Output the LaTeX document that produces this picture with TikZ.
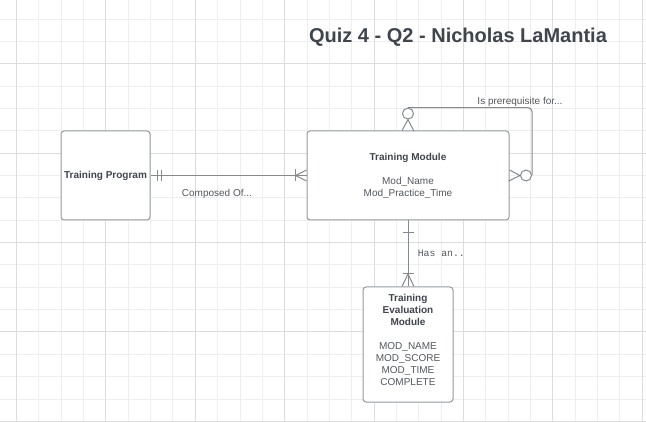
\documentclass[tikz,border=0pt]{standalone}
\usepackage{fontspec}
\setmainfont{Liberation Sans}
\setmonofont{Liberation Mono}
\definecolor{inkdark}{HTML}{40454D}
\definecolor{inkgray}{HTML}{53585F}
\definecolor{boxgray}{HTML}{959AA1}
\definecolor{relgray}{HTML}{858A91}
\definecolor{gridminor}{HTML}{EEEEEE}
\definecolor{gridmajor}{HTML}{DDDDDD}
\tikzset{
  entity/.style={draw=boxgray, line width=1pt, rounded corners=3pt, fill=white, inner sep=0pt},
  rel/.style={draw=relgray, line width=1pt},
  zerocirc/.style={circle, draw=relgray, line width=1pt, fill=white, minimum size=11pt, inner sep=0pt},
  reltext/.style={text=inkgray, font=\fontsize{10}{12}\selectfont},
}
\begin{document}
\begin{tikzpicture}[x=1pt,y=-1pt]
      \useasboundingbox (0,0) rectangle (646,422);
      \fill[white] (0,0) rectangle (646,422);
      \foreach \k in {0,...,28} \draw[gridminor, line width=1pt] ({16.5+22.35*\k},0) -- ++(0,422);
      \foreach \k in {0,...,18} \draw[gridminor, line width=1pt] (0,{19.1+22.35*\k}) -- ++(646,0);
      \foreach \k in {0,4,...,28} \draw[gridmajor, line width=1pt] ({16.5+22.35*\k},0) -- ++(0,422);
      \foreach \k in {2,6,...,18} \draw[gridmajor, line width=1pt] (0,{19.1+22.35*\k}) -- ++(646,0);
      \node[anchor=base, text=inkdark, font=\fontsize{20}{24}\selectfont\bfseries] (title) at (458,42.3) {Quiz 4 - Q2 - Nicholas LaMantia};
      \node[entity, minimum width=89pt, minimum height=89pt] (prog) at (105.5,175.5) {};
      \node[text=inkdark, font=\fontsize{10}{12}\selectfont\bfseries] at (prog) {Training Program};
      \node[entity, minimum width=202pt, minimum height=89pt] (tm) at (408,175.5) {};
      \node[reltext, align=center] at (tm) {\textcolor{inkdark}{\bfseries Training Module}\\[12pt]Mod\_Name\\Mod\_Practice\_Time};
      \node[entity, minimum width=90pt, minimum height=115pt] (tem) at (408,344.5) {};
      \node[reltext, align=center, yshift=4.5pt] at (tem) {\textcolor{inkdark}{\bfseries Training}\\\textcolor{inkdark}{\bfseries Evaluation}\\\textcolor{inkdark}{\bfseries Module}\\[12pt]MOD\_NAME\\MOD\_SCORE\\MOD\_TIME\\COMPLETE};
      \draw[rel] (prog.east) -- node[reltext, below=10pt, pos=0.426] {Composed Of...} (tm.west);
      \draw[rel] (prog.east) ++(6.5,-5.5) -- ++(0,11);
      \draw[rel] (prog.east) ++(11,-5.5) -- ++(0,11);
      \draw[rel] (tm.west) ++(0,-5.5) -- ++(-11,5.5) -- ++(11,5.5);
      \draw[rel] (tm.west) ++(-11,-6) -- ++(0,12);
      \node[zerocirc] (topcirc) at (408,113.6) {};
      \node[zerocirc] (sidecirc) at (526,175.5) {};
      \draw[rel] (tm.north) ++(-6,0) -- (topcirc.south) -- ++(6,11.7);
      \draw[rel] (tm.east) ++(0,-5.5) -- (sidecirc.west) -- ++(-11.4,5.5);
      \draw[rel, rounded corners=4pt] (topcirc.north) -- (sidecirc.east |- topcirc.north) -- (sidecirc.east);
      \node[reltext] at (520,102) {Is prerequisite for...};
      \draw[rel] (tm.south) -- node[pos=0.5, right=6pt, text=inkgray, font=\ttfamily\fontsize{9.8}{12}\selectfont] {Has an..} (tem.north);
      \draw[rel] (tm.south) ++(-5.5,12) -- ++(11,0);
      \draw[rel] (tem.north) ++(-5.5,-12.5) -- ++(11,0);
      \draw[rel] (tem.north) ++(-6,0) -- ++(6,-12.5) -- ++(6,12.5);
    \end{tikzpicture}
\end{document}
